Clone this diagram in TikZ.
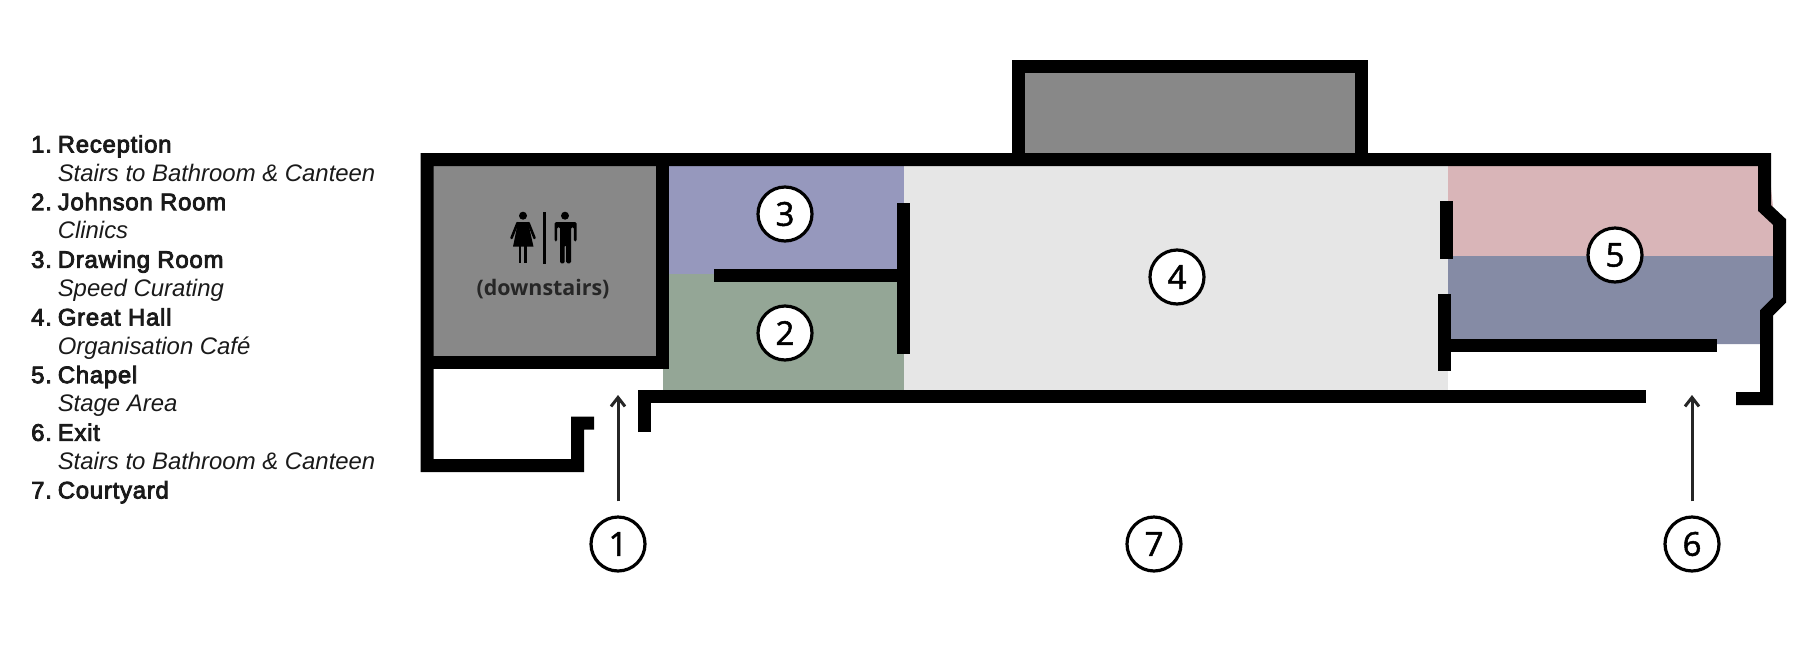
\documentclass[tikz,border=0pt]{standalone}
\usepackage{fontspec}
\setmainfont{Liberation Sans}
\newfontfamily\headfont[FakeBold=3.5,LetterSpace=3.2]{Liberation Sans}
\newfontfamily\labelfont{Open Sans}
\newfontfamily\numfont[FakeBold=1.5]{Open Sans}
\usetikzlibrary{arrows.meta,matrix,positioning}
\definecolor{roomgrey}{HTML}{888888}
\definecolor{hallgrey}{HTML}{E6E6E6}
\definecolor{drawblue}{HTML}{9698BD}
\definecolor{clinicgreen}{HTML}{94A696}
\definecolor{chapelpink}{HTML}{D9B5B8}
\definecolor{chapelslate}{HTML}{858BA5}
\definecolor{legendink}{HTML}{1A1A1A}
\tikzset{
  wall/.style={line width=13pt,line cap=butt,line join=miter,miter limit=10},
  roomno/.style={circle,draw,line width=3.2pt,fill=white,minimum size=54pt,inner sep=0pt,font=\numfont\fontsize{33}{33}\selectfont},
  legendhead/.style={font=\headfont\fontsize{23.9}{28}\selectfont},
  legendsub/.style={font=\fontsize{23.9}{28}\itshape},
  callout/.style={-{Straight Barb[length=9pt,width=14pt]},line width=3pt,color=black!85,shorten <=14pt},
}
\begin{document}
\begin{tikzpicture}[x=1pt,y=-1pt]
\useasboundingbox (0,0) rectangle (1813,646);
%
  \matrix[matrix of nodes,matrix anchor=legend-1-1.base west,column sep={26.6pt,between origins},
          row sep={28.83pt,between origins},nodes={anchor=base west,inner sep=0pt,text=legendink}]
          (legend) at (31,152.5) {
%
  |[legendhead]| 1. & |[legendhead]| Reception \\
  & |[legendsub]| Stairs to Bathroom \& Canteen \\
  |[legendhead]| 2. & |[legendhead]| Johnson Room \\
  & |[legendsub]| Clinics \\
  |[legendhead]| 3. & |[legendhead]| Drawing Room \\
  & |[legendsub]| Speed Curating \\
  |[legendhead]| 4. & |[legendhead]| Great Hall \\
  & |[legendsub]| Organisation Café \\
  |[legendhead]| 5. & |[legendhead]| Chapel \\
  & |[legendsub]| Stage Area \\
  |[legendhead]| 6. & |[legendhead]| Exit \\
  & |[legendsub]| Stairs to Bathroom \& Canteen \\
  |[legendhead]| 7. & |[legendhead]| Courtyard \\
%
  } ;
%
  % rooms
  \fill [roomgrey] (430,160) rectangle (660,360) ;
  \fill [roomgrey] (1020,66) rectangle (1360,160) ;
  \fill [drawblue] (665,160) rectangle (904,274) ;
  \fill [clinicgreen] (663,274) rectangle (904,390) ;
  \fill [hallgrey] (904,160) rectangle (1448,390) ;
  \fill [chapelpink] (1448,160) -- (1768,160) -- (1775,225) -- (1775,256) -- (1448,256) -- cycle ;
  \fill [chapelslate] (1448,256) -- (1775,256) -- (1775,300) -- (1763,344) -- (1448,344) -- cycle ;
%
  % walls
  \draw [wall] (1736,398.5) -- (1766.5,398.5) -- (1766.5,313) -- (1779.5,300) -- (1779.5,222)
    -- (1764.5,208) -- (1764.5,159.5) -- (427,159.5) -- (427,465.5) -- (577.5,465.5)
    -- (577.5,423) -- (594,423) ;
  \draw [wall] (662.5,159.5) -- (662.5,362) -- (427,362) ;
  \draw [wall] (1018.5,159.5) -- (1018.5,66) -- (1361.5,66) -- (1361.5,159.5) ;
  \draw [wall] (644,432) -- (644,396) -- (1646,396) ;
  \draw [wall] (903.5,203) -- (903.5,354) ;
  \draw [wall] (714,275) -- (903.5,275) ;
  \draw [wall] (1446.5,201) -- (1446.5,259) ;
  \draw [wall] (1444.5,294) -- (1444.5,371) ;
  \draw [wall] (1444.5,345.5) -- (1717,345.5) ;
%
  % toilet sign
  \fill (523,215.7) circle (4) ;
  \fill (518,222) -- (528,222) -- (533.5,246.7) -- (513,246.7) -- cycle ;
  \draw [line width=2.6pt,line cap=round] (517.5,223) -- (511.5,238) ;
  \draw [line width=2.6pt,line cap=round] (528.5,223) -- (534.5,238) ;
  \fill (518.5,246) rectangle (521.2,263.3) ;
  \fill (523.8,246) rectangle (526.5,263.3) ;
  \fill (565,215.7) circle (4) ;
  \fill [rounded corners=1.5pt] (554.5,241.5) -- (554.5,222) -- (576.5,222) -- (576.5,241.5)
    -- (573.8,241.5) -- (573.8,227) -- (571,227) -- (571,263.3) -- (566.2,263.3) -- (566.2,245)
    -- (564.7,245) -- (564.7,263.3) -- (560,263.3) -- (560,227) -- (557.2,227) -- (557.2,241.5) -- cycle ;
  \fill (543,211.7) rectangle (546,263.6) ;
  \node (down) at (543,289) [font=\labelfont\fontsize{21.4}{24}\bfseries,text=black!85] {(downstairs)} ;
%
  % room numbers
  \node (no1) at (618,544) [roomno] {1} ;
  \node (no2) at (785,333) [roomno] {2} ;
  \node (no3) at (785,214) [roomno] {3} ;
  \node (no4) at (1177,277) [roomno] {4} ;
  \node (no5) at (1615,255) [roomno] {5} ;
  \node (no6) at (1692,544) [roomno] {6} ;
  \node (no7) at (1154,544) [roomno] {7} ;
%
  \coordinate (entry) at (618,395) ;
  \coordinate (exit) at (1692,395) ;
  \draw [callout] (no1) -- (entry) ;
  \draw [callout] (no6) -- (exit) ;

\end{tikzpicture}
\end{document}
